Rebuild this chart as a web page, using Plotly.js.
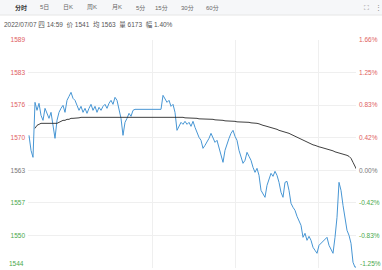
<!DOCTYPE html>
<html><head><meta charset="utf-8">
<script src="https://cdn.plot.ly/plotly-3.0.1.min.js"></script>
<style>html,body{margin:0;padding:0;background:#fff;}#chart{width:382px;height:270px;}</style>
</head><body><div id="chart"></div>
<script>
// ---- data ----
const prevClose = 1563;
const priceLabels = ['1544','1550','1557','1563','1570','1576','1583','1589'];
const pctLabels = ['-1.25%','-0.83%','-0.42%','0.00%','0.42%','0.83%','1.25%','1.66%'];
const pctSteps = [-3,-2,-1,0,1,2,3,4];
const tabs = ['分时','5日','日K','周K','月K','5分','15分','30分','60分'];
const infoText = '2022/07/07 四 14:59  价 1541  均 1563  量 6173  幅 1.40%';
const price = [
 1570.0,1567.0,1565.6,1576.6,1575.0,1576.4,1574.0,1573.0,1575.4,1574.2,
 1573.4,1574.6,1572.0,1569.4,1573.0,1574.6,1575.4,1576.0,1574.6,1577.0,
 1577.8,1578.6,1577.4,1577.0,1576.0,1575.0,1575.8,1574.6,1575.4,1574.4,
 1575.4,1576.2,1575.0,1575.8,1574.6,1575.6,1575.0,1575.8,1576.2,1575.4,
 1576.4,1577.0,1576.2,1577.6,1577.0,1575.0,1573.4,1570.0,1572.6,1573.4,
 1574.4,1573.8,1575.0,1575.2,1575.2,1575.2,1575.2,1575.2,1575.2,1575.2,
 1575.2,1575.2,1575.2,1575.2,1575.2,1575.2,1575.2,1578.0,1577.4,1576.6,
 1577.0,1575.8,1576.2,1574.6,1571.0,1571.8,1572.6,1572.2,1572.8,1572.2,
 1572.6,1571.8,1572.8,1571.6,1570.4,1569.6,1569.0,1567.4,1568.0,1568.6,
 1569.4,1570.4,1569.6,1568.6,1569.0,1567.4,1566.4,1564.6,1567.0,1568.4,
 1569.4,1570.4,1571.0,1569.8,1569.0,1567.0,1565.4,1564.4,1565.0,1566.6,
 1565.8,1565.0,1563.6,1562.6,1563.4,1562.0,1559.0,1558.4,1557.6,1560.0,
 1561.4,1562.4,1561.8,1562.8,1562.0,1560.6,1558.6,1557.6,1560.6,1560.8,
 1559.0,1556.4,1555.6,1555.0,1553.8,1553.0,1552.0,1549.6,1550.4,1549.0,
 1549.8,1549.0,1547.6,1547.0,1546.4,1548.0,1548.4,1549.0,1549.4,1549.6,
 1548.0,1547.0,1546.4,1549.6,1553.6,1560.6,1559.0,1556.0,1553.0,1551.0,
 1550.0,1548.4,1544.6,1543.6,1543.8
];
const avgPrice = [
 null,null,null,1571.4,1572.0,1572.2,1572.4,1572.4,1572.4,1572.4,
 1572.4,1572.4,1572.4,1572.4,1572.4,1572.6,1572.8,1573.0,1573.0,1573.2,
 1573.2,1573.4,1573.4,1573.4,1573.5,1573.5,1573.6,1573.6,1573.6,1573.6,
 1573.6,1573.6,1573.6,1573.7,1573.7,1573.7,1573.7,1573.7,1573.7,1573.7,
 1573.7,1573.7,1573.7,1573.7,1573.7,1573.7,1573.7,1573.7,1573.7,1573.7,
 1573.7,1573.7,1573.7,1573.7,1573.7,1573.7,1573.7,1573.7,1573.7,1573.7,
 1573.7,1573.7,1573.7,1573.7,1573.7,1573.7,1573.7,1573.7,1573.7,1573.7,
 1573.7,1573.7,1573.7,1573.6,1573.6,1573.6,1573.6,1573.6,1573.5,1573.5,
 1573.5,1573.4,1573.4,1573.4,1573.4,1573.3,1573.3,1573.3,1573.3,1573.2,
 1573.2,1573.2,1573.2,1573.1,1573.1,1573.0,1573.0,1573.0,1572.9,1572.9,
 1572.9,1572.8,1572.8,1572.8,1572.7,1572.7,1572.7,1572.7,1572.6,1572.6,
 1572.6,1572.5,1572.5,1572.4,1572.4,1572.3,1572.1,1572.0,1571.9,1571.8,
 1571.6,1571.5,1571.4,1571.3,1571.2,1571.0,1570.9,1570.8,1570.6,1570.5,
 1570.4,1570.2,1570.0,1569.8,1569.6,1569.4,1569.2,1569.0,1568.8,1568.6,
 1568.4,1568.3,1568.1,1568.0,1567.8,1567.7,1567.6,1567.5,1567.4,1567.2,
 1567.1,1567.0,1566.9,1566.7,1566.6,1566.5,1566.3,1566.2,1566.1,1566.0,
 1565.8,1565.4,1564.6,1563.8,1563.0
];
const sessionBreaks = [61.5, 103, 144.5];

// ---- build ----
const minutes = price.map((_, i) => i);
const stepPct = 1/240;
const tickVals = pctSteps.map(k => prevClose * (1 + k * stepPct));
const colorFor = k => k > 0 ? '#e06060' : (k < 0 ? '#4aa84a' : '#777');
const leftText = priceLabels.map((t, i) => `<span style="color:${colorFor(pctSteps[i])}">${t}</span>`);
const rightText = pctLabels.map((t, i) => `<span style="color:${colorFor(pctSteps[i])}">${t}</span>`);
const yRange = [tickVals[0], tickVals[tickVals.length - 1] + 0.02];

const traces = [
  {x: minutes, y: price, type: 'scatter', mode: 'lines', line: {color: '#4796d4', width: 1}, hoverinfo: 'skip'},
  {x: minutes, y: avgPrice, type: 'scatter', mode: 'lines', line: {color: '#2a2a2a', width: 0.9}, hoverinfo: 'skip', connectgaps: false},
  {x: minutes, y: avgPrice, type: 'scatter', mode: 'lines', yaxis: 'y2', line: {color: 'rgba(0,0,0,0)', width: 0}, hoverinfo: 'skip'}
];

const tabX = [-0.0213, 0.0518, 0.1220, 0.1951, 0.2713, 0.3415, 0.4085, 0.4848, 0.5640];
const annotations = tabs.map((t, i) => ({
  text: i === 0 ? '<b>' + t + '</b>' : t, xref: 'paper', yref: 'paper', x: tabX[i], y: 1.1425,
  xanchor: 'center', yanchor: 'middle', showarrow: false,
  font: {size: 6, color: i === 0 ? '#333' : '#666'}
}));
annotations.push({text: '⛶', xref: 'paper', yref: 'paper', x: 1.0335, y: 1.1425, xanchor: 'center', yanchor: 'middle', showarrow: false, font: {size: 7, color: '#888'}});
annotations.push({text: '⋮', xref: 'paper', yref: 'paper', x: 1.0671, y: 1.1425, xanchor: 'center', yanchor: 'middle', showarrow: false, font: {size: 7, color: '#888'}});
annotations.push({text: infoText, xref: 'paper', yref: 'paper', x: -0.0793, y: 1.0658, xanchor: 'left', yanchor: 'middle', showarrow: false, font: {size: 6.5, color: '#555'}});
// bottom-edge labels, kept fully inside the frame
annotations.push({text: leftText[0], xref: 'paper', yref: 'y', x: -0.006, y: tickVals[0], xanchor: 'right', yanchor: 'bottom', yshift: -1, showarrow: false, font: {size: 6.5}});
annotations.push({text: rightText[0], xref: 'paper', yref: 'y', x: 1.006, y: tickVals[0], xanchor: 'left', yanchor: 'bottom', yshift: -1, showarrow: false, font: {size: 6.5}});

const shapes = [
  {type: 'rect', xref: 'paper', yref: 'paper', x0: -0.0854, x1: 1.0793, y0: 1.1096, y1: 1.18, fillcolor: '#f6f7f9', line: {width: 0}, layer: 'below'},
  {type: 'line', xref: 'paper', yref: 'paper', x0: -0.0854, x1: 1.0793, y0: 1.1096, y1: 1.1096, line: {color: '#e6e6e6', width: 1}}
];

const layout = {
  width: 382, height: 270,
  margin: {l: 28, r: 26, t: 40, b: 2, pad: 0},
  paper_bgcolor: '#fff', plot_bgcolor: '#fff',
  font: {family: 'Liberation Sans, Noto Sans CJK SC, sans-serif', size: 7, color: '#666'},
  showlegend: false,
  xaxis: {range: [-0.5, 163.5], tickvals: sessionBreaks, showticklabels: false, showgrid: true, gridcolor: '#efefef', gridwidth: 1, zeroline: false, showline: false, ticks: '', fixedrange: true},
  yaxis: {range: yRange, tickvals: tickVals.slice(1), ticktext: leftText.slice(1), showgrid: true, gridcolor: '#efefef', gridwidth: 1, zeroline: false, showline: false, ticks: '', ticklabelstandoff: 2, tickfont: {size: 6.5}},
  yaxis2: {range: yRange, overlaying: 'y', side: 'right', tickvals: tickVals.slice(1), ticktext: rightText.slice(1), showgrid: false, zeroline: false, showline: false, ticks: '', ticklabelstandoff: 2, tickfont: {size: 6.5}},
  annotations: annotations,
  shapes: shapes
};

Plotly.newPlot('chart', traces, layout, {displayModeBar: false, staticPlot: true});
</script>
</body></html>
